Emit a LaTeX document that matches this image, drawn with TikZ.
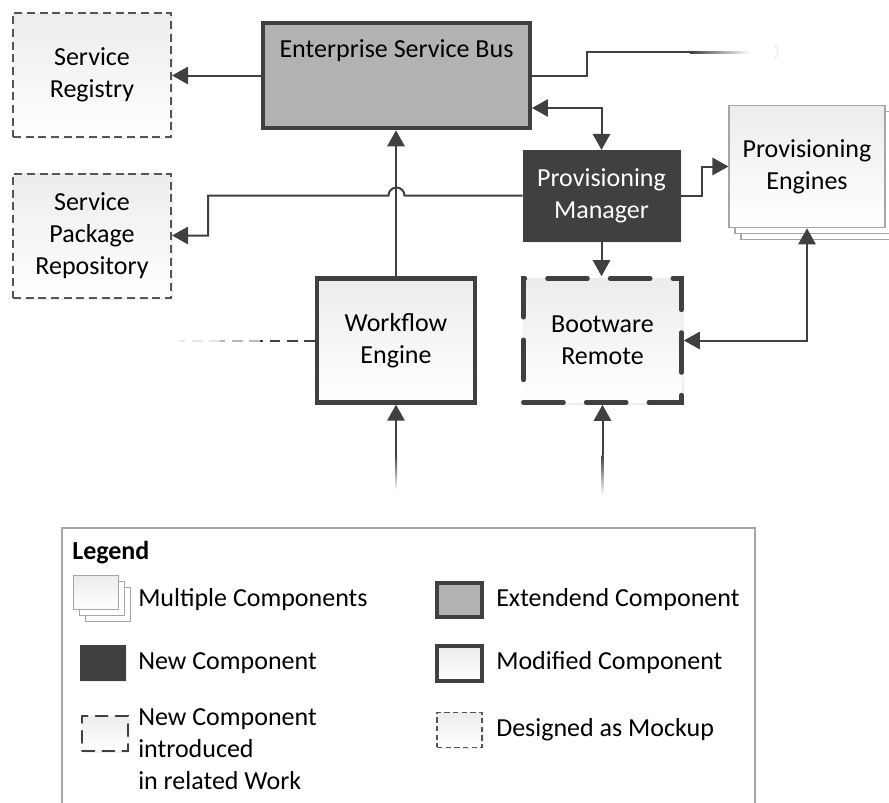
\documentclass[tikz,border=0pt]{standalone}
\usepackage{fontspec}
\setmainfont{Carlito}
\usepackage{xcolor}
\usepackage{tikz}
\usetikzlibrary{arrows.meta,positioning,shadows}
\definecolor{linegray}{RGB}{64,64,64}
\definecolor{busgray}{RGB}{178,178,178}
\definecolor{boxtop}{RGB}{236,236,236}
\definecolor{mockgray}{RGB}{85,85,85}
\definecolor{stackgray}{RGB}{166,166,166}

\begin{document}
\begin{tikzpicture}[
x=0.75pt, y=-0.75pt,
every node/.style={font=\fontsize{19.5}{24}\selectfont, align=center, inner sep=0pt},
>={Triangle[length=12pt,width=13pt]},
box/.style={rectangle, minimum width=118.5pt, minimum height=93pt, drop shadow={shadow xshift=1.5pt, shadow yshift=-1.5pt, opacity=0.12}},
lightbox/.style={box, top color=boxtop, bottom color=white},
mockup/.style={lightbox, draw=mockgray, line width=1.5pt, dash pattern=on 6pt off 3.5pt},
extended/.style={box, fill=busgray, draw=linegray, line width=3.2pt},
newcomp/.style={box, fill=linegray, draw=linegray, text=white},
modified/.style={lightbox, draw=linegray, line width=3.2pt},
related/.style={lightbox, draw=linegray, line width=3.5pt, line cap=round, dash pattern=on 30pt off 17pt},
multiple/.style={rectangle, minimum width=117pt, minimum height=92pt, top color=boxtop, bottom color=white, draw=stackgray, line width=0.8pt, copy shadow={shadow xshift=9pt, shadow yshift=-9pt, draw=stackgray, fill=white}, copy shadow={shadow xshift=4.5pt, shadow yshift=-4.5pt, draw=stackgray, fill=white}},
conn/.style={->, line width=1.5pt, linegray},
conn2/.style={<->, line width=1.5pt, linegray},
icon/.style={minimum width=34pt, minimum height=26pt},
legend_text/.style={anchor=west, align=left}
]

\useasboundingbox (0,0) rectangle (889,803);

% Repositories (mockups)

\node[mockup] (REG) at (92,75) {Service\\Registry};

\node[mockup] (REPO) at (92,235.5) {Service\\Package\\Repository};

% Enterprise Service Bus

\node[extended, minimum width=200pt, minimum height=79pt,
label={[name=ESBt, anchor=north, yshift=-14pt]north:Enterprise Service Bus}] (ESB) at (396.5,75.5) {};

% Provisioning

\node[newcomp, minimum width=118pt, minimum height=68pt] (PM) at (601.5,195.5) {Provisioning\\Manager};

\node[multiple] (PE) at (807,166.5) {Provisioning\\Engines};

% Workflow Engine and Bootware Remote

\node[modified] (WE) at (396,340.5) {Workflow\\Engine};

\node[related] (BR) at (602.5,340.5) {Bootware\\Remote};

% Connections

\draw[conn] (ESB.west) -- (ESB.west -| REG.east);
\draw[conn2] (ESB.east |- 0,108) -| (PM.north);
\draw[conn] (PM.east) -- ++(22,0) |- (PE.west);
\draw[conn] (PM.west) -- (404.5,195.5) arc[start angle=0, end angle=180, radius=6pt] -- (208,195.5) |- (REPO.east);
\draw[conn] (WE.north) -- (WE.north |- ESB.south);
\draw[conn] (PM.south) -- (PM.south |- BR.north);
\draw[conn2] (PE.south) |- (BR.east);

% Lines leaving the picture

\coordinate (BUSout) at (690,52);
\draw[line width=1.5pt, linegray] (ESB.east) -- ++(55,0) |- (BUSout);
\shade[left color=linegray, right color=white] (BUSout) ++(0,-1) rectangle ++(60,2);
\draw[gray!12, line width=1.5pt] (774,45) arc[start angle=60, end angle=-60, radius=6pt];

\coordinate (WFin) at (180,340.5);
\draw[line width=1.5pt, linegray, dash pattern=on 8pt off 5pt] (WE.west) -- ++(-55,0) coordinate (WFa);
\draw[line width=1.5pt, gray!55, dash pattern=on 8pt off 5pt] (WFa) -- ++(-40,0) coordinate (WFb);
\draw[line width=1.5pt, gray!20, dash pattern=on 8pt off 5pt] (WFb) -- (WFin);

\coordinate (WEin) at (397,490);
\coordinate (BRin) at (603.5,495);
\draw[conn] (WE.south |- 0,455) -- (WE.south);
\shade[top color=linegray, bottom color=white] (395,455) rectangle (WEin);
\draw[conn] (BR.south |- 0,455) -- (BR.south);
\shade[top color=linegray, bottom color=white] (601.5,455) rectangle (BRin);

% Legend

\draw[stackgray, line width=0.8pt] (62,806) |- (755,528) -- (755,806);

\node[anchor=west, font=\fontsize{19.5}{24}\selectfont\bfseries] (LT) at (72,553) {Legend};

\node[multiple, icon] (L1) at (96,592.5) {};
\node[legend_text] (T1) at (138,600) {Multiple Components};

\node[newcomp, icon] (L2) at (102.5,663) {};
\node[legend_text] (T2) at (138,663) {New Component};

\node[related, icon, line width=1.5pt, dash pattern=on 9pt off 6pt] (L3) at (105,733.5) {};
\node[legend_text] (T3) at (138,749) {New Component\\introduced\\in related Work};

\node[extended, icon] (R1) at (459.5,600) {};
\node[legend_text] (T4) at (496,600) {Extendend Component};

\node[modified, icon] (R2) at (459.5,663.5) {};
\node[legend_text] (T5) at (496,663) {Modified Component};

\node[mockup, icon, line width=1.2pt, dash pattern=on 4pt off 2.5pt] (R3) at (459.5,730) {};
\node[legend_text] (T6) at (496,730) {Designed as Mockup};

\end{tikzpicture}
\end{document}
